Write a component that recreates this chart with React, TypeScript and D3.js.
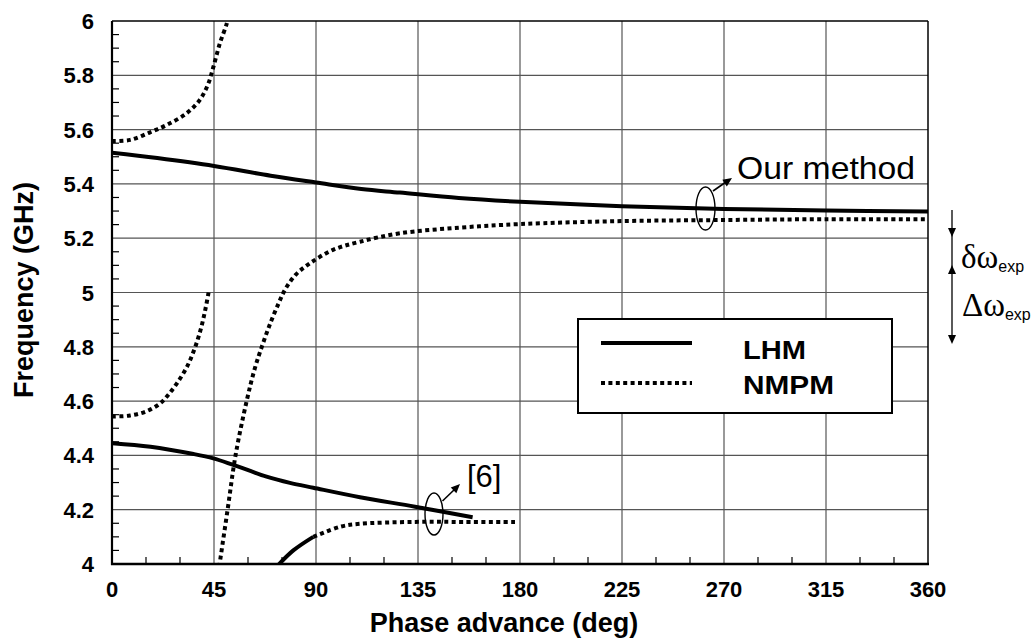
import React from "react";
import * as d3 from "d3";

// ---- Data ----
const xTicks = [0, 45, 90, 135, 180, 225, 270, 315, 360];
const yTicks = [4, 4.2, 4.4, 4.6, 4.8, 5, 5.2, 5.4, 5.6, 5.8, 6];
const yTickLabels = ["4", "4.2", "4.4", "4.6", "4.8", "5", "5.2", "5.4", "5.6", "5.8", "6"];

// LHM (solid) – upper branch (our method)
const lhmUpperPhase = [0, 20, 45, 70, 90, 110, 127, 153, 180, 225, 270, 315, 360];
const lhmUpperFreq = [5.515, 5.495, 5.466, 5.43, 5.405, 5.381, 5.368, 5.348, 5.334, 5.318, 5.308, 5.302, 5.298];

// LHM (solid) – lower branch ([6])
const lhmLowerPhase = [0, 17, 36, 44.7, 53.5, 68.2, 78.5, 88.8, 109.4, 133.7, 159.1];
const lhmLowerFreq = [4.445, 4.432, 4.405, 4.389, 4.365, 4.322, 4.299, 4.281, 4.246, 4.211, 4.172];

// NMPM (dotted) – upper-left branch
const nmpmUpLeftPhase = [0, 8, 16.8, 24.1, 32.9, 38.8, 42.5, 44.7, 47.6, 50.6, 51.3];
const nmpmUpLeftFreq = [5.558, 5.562, 5.59, 5.617, 5.66, 5.71, 5.77, 5.83, 5.918, 5.99, 6.02];

// NMPM (dotted) – middle branch (our method)
const nmpmMidPhase = [47.3, 51, 54.5, 59.4, 63, 66.5, 70, 73.5, 76.3, 81, 87.4, 97.5, 109.4, 127, 153.5, 180, 225, 270, 315, 360];
const nmpmMidFreq = [3.99, 4.2, 4.4, 4.6, 4.72, 4.81, 4.89, 4.96, 5.01, 5.065, 5.108, 5.157, 5.187, 5.218, 5.239, 5.252, 5.263, 5.267, 5.27, 5.27];

// NMPM (dotted) – lower-left branch
const nmpmLowLeftPhase = [0, 8, 15, 21, 25, 29, 33, 36.3, 39, 41, 42.6];
const nmpmLowLeftFreq = [4.543, 4.547, 4.562, 4.59, 4.625, 4.67, 4.725, 4.79, 4.86, 4.93, 5.0];

// NMPM – lower branch ([6]): solid start then dotted
const nmpmLowSolidPhase = [73.2, 80, 88.8];
const nmpmLowSolidFreq = [3.995, 4.05, 4.1];
const nmpmLowDotPhase = [88.8, 100.6, 109.4, 133.7, 155, 178];
const nmpmLowDotFreq = [4.1, 4.137, 4.148, 4.155, 4.155, 4.155];

const legendLabels = ["LHM", "NMPM"];

// ---- Layout ----
const W = 1036, H = 640;
const X0 = 112, X1 = 928, Y0 = 564, Y1 = 21;
const x = d3.scaleLinear().domain([0, 360]).range([X0, X1]);
const y = d3.scaleLinear().domain([4, 6]).range([Y0, Y1]);

const zip = (a: number[], b: number[]) => a.map((v, i) => [v, b[i]] as [number, number]);
const lineGen = d3
  .line<[number, number]>()
  .x((d) => x(d[0]))
  .y((d) => y(d[1]))
  .curve(d3.curveCatmullRom.alpha(0.5));

const SANS = "'Liberation Sans', Arial, sans-serif";
const SERIF = "'Liberation Serif', 'Times New Roman', serif";
const DOT = "4,3.4";

export default function App() {
  const minorX = d3.range(0, 361, 15).filter((v) => v % 45 !== 0);
  const minorY = d3.range(4, 6.0001, 0.05).filter((v) => Math.abs(v * 5 - Math.round(v * 5)) > 1e-6);

  const solid = { fill: "none", stroke: "#000", strokeWidth: 4 };
  const dotted = { fill: "none", stroke: "#000", strokeWidth: 4, strokeDasharray: DOT };

  // legend
  const LX = 578, LY = 319, LW = 314, LH = 94;

  const arrowHead = (tx: number, ty: number, fx: number, fy: number, len = 9, half = 4) => {
    const a = Math.atan2(ty - fy, tx - fx);
    const bx = tx - len * Math.cos(a), by = ty - len * Math.sin(a);
    const px = -Math.sin(a) * half, py = Math.cos(a) * half;
    return `M${tx},${ty}L${bx + px},${by + py}L${bx - px},${by - py}Z`;
  };

  return (
    <svg
      width={W}
      height={H}
      viewBox={`0 0 ${W} ${H}`}
      style={{ position: "absolute", left: 0, top: 0, background: "#fff" }}
    >
      <defs>
        <clipPath id="plot">
          <rect x={X0} y={Y1} width={X1 - X0} height={Y0 - Y1} />
        </clipPath>
      </defs>
      <rect x={0} y={0} width={W} height={H} fill="#fff" />

      {/* grid */}
      <g stroke="#555" strokeWidth={1.2}>
        {xTicks.slice(1, -1).map((t) => (
          <line key={"gx" + t} x1={x(t)} x2={x(t)} y1={Y1} y2={Y0} />
        ))}
        {yTicks.slice(1, -1).map((t) => (
          <line key={"gy" + t} x1={X0} x2={X1} y1={y(t)} y2={y(t)} />
        ))}
      </g>

      {/* minor ticks */}
      <g stroke="#000" strokeWidth={1.2}>
        {minorX.map((t) => (
          <line key={"mx" + t} x1={x(t)} x2={x(t)} y1={Y0} y2={Y0 - 7} />
        ))}
        {minorY.map((t) => (
          <line key={"my" + t} x1={X0} x2={X0 + 7} y1={y(t)} y2={y(t)} />
        ))}
      </g>

      {/* frame */}
      <line x1={X0} x2={X1} y1={Y1} y2={Y1} stroke="#000" strokeWidth={1.5} />
      <line x1={X1} x2={X1} y1={Y1} y2={Y0} stroke="#000" strokeWidth={1.5} />
      <line x1={X0} x2={X0} y1={Y1} y2={Y0 + 1} stroke="#000" strokeWidth={2.2} />
      <line x1={X0 - 1} x2={X1 + 1} y1={Y0} y2={Y0} stroke="#000" strokeWidth={2.5} />

      {/* curves */}
      <g clipPath="url(#plot)">
        <path d={lineGen(zip(lhmUpperPhase, lhmUpperFreq)) || ""} {...solid} />
        <path d={lineGen(zip(lhmLowerPhase, lhmLowerFreq)) || ""} {...solid} />
        <path d={lineGen(zip(nmpmUpLeftPhase, nmpmUpLeftFreq)) || ""} {...dotted} />
        <path d={lineGen(zip(nmpmMidPhase, nmpmMidFreq)) || ""} {...dotted} />
        <path d={lineGen(zip(nmpmLowLeftPhase, nmpmLowLeftFreq)) || ""} {...dotted} />
        <path d={lineGen(zip(nmpmLowSolidPhase, nmpmLowSolidFreq)) || ""} {...solid} />
        <path d={lineGen(zip(nmpmLowDotPhase, nmpmLowDotFreq)) || ""} {...dotted} />
      </g>

      {/* legend */}
      <rect x={LX} y={LY} width={LW} height={LH} fill="#fff" stroke="#000" strokeWidth={2} />
      <line x1={601} x2={692} y1={343} y2={343} stroke="#000" strokeWidth={4} />
      <line x1={601} x2={692} y1={383} y2={383} stroke="#000" strokeWidth={4} strokeDasharray={DOT} />
      <text x={743} y={359} fontFamily={SANS} fontWeight="bold" fontSize={25} textLength={63} lengthAdjust="spacingAndGlyphs">
        {legendLabels[0]}
      </text>
      <text x={743} y={394} fontFamily={SANS} fontWeight="bold" fontSize={25} textLength={91} lengthAdjust="spacingAndGlyphs">
        {legendLabels[1]}
      </text>

      {/* annotations: Our method */}
      <ellipse cx={705.5} cy={208.5} rx={9.5} ry={21.5} fill="none" stroke="#000" strokeWidth={1.4} />
      <line x1={713} x2={726} y1={191} y2={182} stroke="#000" strokeWidth={1.6} />
      <path d={arrowHead(732, 178, 713, 191)} fill="#000" />
      <text x={737} y={179} fontFamily={SANS} fontSize={32} textLength={178} lengthAdjust="spacingAndGlyphs">
        Our method
      </text>

      {/* annotations: [6] */}
      <ellipse cx={434} cy={514} rx={9} ry={21} fill="none" stroke="#000" strokeWidth={1.4} />
      <line x1={442.5} x2={455} y1={501} y2={489} stroke="#000" strokeWidth={1.6} />
      <path d={arrowHead(460, 484, 442.5, 501)} fill="#000" />
      <text x={467} y={487} fontFamily={SANS} fontSize={31}>
        [6]
      </text>

      {/* right side δω / Δω markers */}
      <line x1={952} x2={952} y1={210} y2={340} stroke="#000" strokeWidth={1.3} />
      <path d={arrowHead(952, 237, 952, 210, 9, 4)} fill="#000" />
      <path d={arrowHead(952, 265, 952, 290, 9, 4)} fill="#000" />
      <path d={arrowHead(952, 344, 952, 300, 9, 4)} fill="#000" />
      <text x={961} y={268} fontFamily={SERIF} fontSize={33}>
        δω<tspan fontFamily={SANS} fontSize={16} dy={4}>exp</tspan>
      </text>
      <text x={962} y={316} fontFamily={SERIF} fontSize={33}>
        Δω<tspan fontFamily={SANS} fontSize={16} dy={4}>exp</tspan>
      </text>

      {/* tick labels */}
      <g fontFamily={SANS} fontWeight="bold" fontSize={22} fill="#000">
        {xTicks.map((t) => (
          <text key={"xl" + t} x={x(t)} y={597} textAnchor="middle">
            {t}
          </text>
        ))}
        {yTicks.map((t, i) => (
          <text key={"yl" + t} x={94} y={y(t) + 8} textAnchor="end">
            {yTickLabels[i]}
          </text>
        ))}
      </g>

      {/* axis titles */}
      <text x={504} y={632} textAnchor="middle" fontFamily={SANS} fontWeight="bold" fontSize={27}>
        Phase advance (deg)
      </text>
      <text
        transform={`translate(33,290) rotate(-90)`}
        textAnchor="middle"
        fontFamily={SANS}
        fontWeight="bold"
        fontSize={27}
      >
        Frequency (GHz)
      </text>
    </svg>
  );
}
